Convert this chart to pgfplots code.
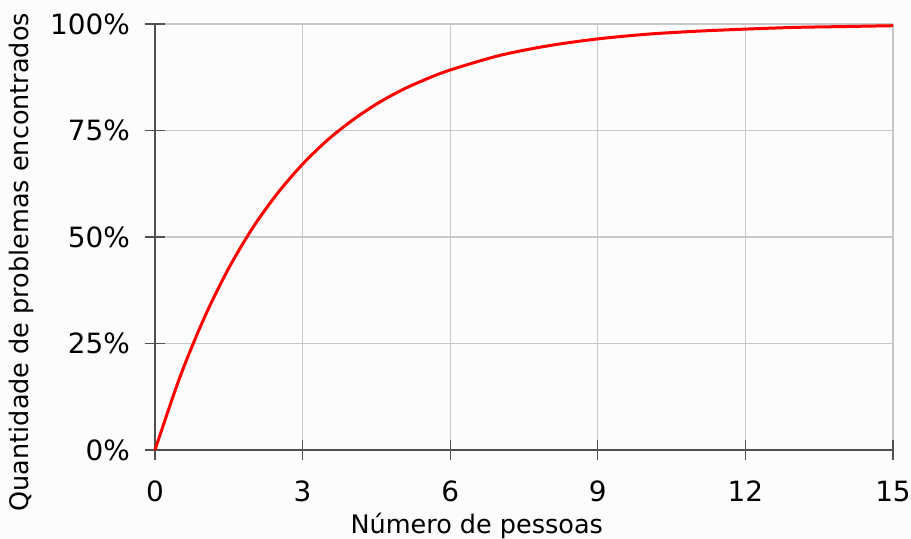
\documentclass[border=0pt]{standalone}
\usepackage{pgfplots}
\pgfplotsset{compat=1.18}
\usepackage{fontspec}
\setmainfont{DejaVu Sans}

\definecolor{gridgray}{RGB}{200,200,200}
\definecolor{axisgray}{RGB}{80,80,80}
\definecolor{bgcol}{RGB}{251,252,251}

\begin{document}
\begin{tikzpicture}
\path[use as bounding box, fill=bgcol] (-77.5bp,-44.5bp) rectangle (378bp,225bp);
\begin{axis}[
    at={(0,0)}, anchor=south west,
    scale only axis,
    width=369bp, height=213bp,
    xmin=0, xmax=15, ymin=0, ymax=100,
    axis lines=left,
    axis line style={-, axisgray, line width=0.8pt},
    xtick={0,3,6,9,12,15},
    xticklabels={0,3,6,9,12,15},
    ytick={0,25,50,75,100},
    yticklabels={0\%,25\%,50\%,75\%,100\%},
    tick align=center,
    major tick length=10bp,
    tick style={axisgray, line width=0.6pt},
    grid=major,
    grid style={gridgray, line width=0.6pt},
    tick label style={font=\fontsize{14}{16}\selectfont, black},
    xticklabel style={yshift=-7bp},
    yticklabel style={xshift=-4bp},
    label style={font=\fontsize{12.8}{15}\selectfont},
    xlabel={Número de pessoas},
    ylabel={Quantidade de problemas encontrados},
    xlabel style={at={(axis description cs:0.436,-0.178)}, anchor=center},
    ylabel style={at={(axis description cs:-0.181,0.441)}, anchor=center, rotate=0},
    clip=false,
]
\addplot[red, line width=1.5pt, smooth] coordinates {
(0,0) (0.5,16.9) (1,31.0) (1.5,42.7) (2,52.4) (2.5,60.4) (3,67.1)
(3.5,72.7) (4,77.3) (4.5,81.2) (5,84.4) (5.5,87.0) (6,89.2) (7,92.6)
(8,94.9) (9,96.5) (10,97.6) (11,98.3) (12,98.8) (13,99.2) (14,99.4) (15,99.6)
};
\end{axis}
\end{tikzpicture}
\end{document}
